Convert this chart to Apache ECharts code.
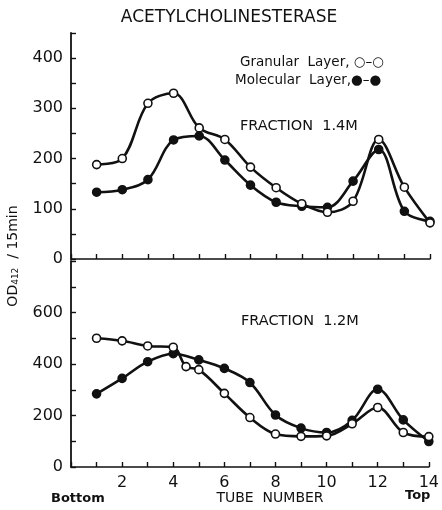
<!DOCTYPE html>
<html><head><meta charset="utf-8">
<script src="https://cdn.jsdelivr.net/npm/echarts@6/dist/echarts.min.js"></script>
<style>html,body{margin:0;padding:0;background:#fff}#c{width:442px;height:510px}</style>
</head><body><div id="c"></div>
<script>
var tubes = [1,2,3,4,5,6,7,8,9,10,11,12,13,14];
var topGranular  = [188,200,310,330,261,238,183,142,110,93,115,238,143,72];
var topMolecular = [133,138,158,237,245,197,147,113,105,103,155,218,95,75];
var botGranularX = [1,2,3,4,4.5,5,6,7,8,9,10,11,12,13,14];
var botGranular  = [500,490,470,465,390,378,286,192,128,119,121,168,231,134,118];
var botMolecular = [284,344,409,440,416,383,328,202,151,134,181,302,183,99];
var topYTicks = [0,100,200,300,400];
var botYTicks = [0,200,400,600];
var xTickLabels = [2,4,6,8,10,12,14];

function pairs(xs, ys){ return xs.map(function(x,i){return [x, ys[i]];}); }
var FONT = 'DejaVu Sans';
var ink = '#111';

function lineSeries(xi, yi, data, filled){
  return {
    type:'line', xAxisIndex:xi, yAxisIndex:yi, data:data, smooth:0.35,
    symbol:'circle', symbolSize:8,
    lineStyle:{color:ink, width:2.6},
    itemStyle:{color: filled ? ink : '#fff', borderColor:ink, borderWidth:1.6},
    z: filled ? 3 : 4
  };
}

var chart = echarts.init(document.getElementById('c'), null, {renderer:'canvas'});
chart.setOption({
  animation:false,
  backgroundColor:'#fff',
  grid:[
    {left:71, right:12, top:33, height:226},
    {left:71, right:12, top:261, bottom:43}
  ],
  xAxis:[
    {gridIndex:0, type:'value', min:0, max:14, interval:1,
     axisLine:{lineStyle:{color:ink, width:1.6}},
     axisTick:{inside:true, length:5, lineStyle:{color:ink, width:1.4}},
     axisLabel:{show:false}, splitLine:{show:false}},
    {gridIndex:1, type:'value', min:0, max:14, interval:1,
     axisLine:{lineStyle:{color:ink, width:1.6}},
     axisTick:{inside:true, length:5, lineStyle:{color:ink, width:1.4}},
     axisLabel:{color:ink, fontSize:16, fontFamily:FONT, margin:8,
       formatter:function(v){return xTickLabels.indexOf(v)>=0 ? String(v) : '';}},
     splitLine:{show:false}}
  ],
  yAxis:[
    {gridIndex:0, type:'value', min:0, max:450, interval:50,
     axisLine:{show:true, lineStyle:{color:ink, width:1.8}},
     axisTick:{show:true, inside:true, length:5, lineStyle:{color:ink, width:1.4}},
     axisLabel:{color:ink, fontSize:16, fontFamily:FONT, margin:8,
       formatter:function(v){return topYTicks.indexOf(v)>=0 ? String(v) : '';}},
     splitLine:{show:false}},
    {gridIndex:1, type:'value', min:0, max:800, interval:100,
     axisLine:{show:true, lineStyle:{color:ink, width:1.8}},
     axisTick:{show:true, inside:true, length:5, lineStyle:{color:ink, width:1.4}},
     axisLabel:{color:ink, fontSize:16, fontFamily:FONT, margin:8,
       formatter:function(v){return botYTicks.indexOf(v)>=0 ? String(v) : '';}},
     splitLine:{show:false}}
  ],
  series:[
    lineSeries(0,0,pairs(tubes, topGranular), false),
    lineSeries(0,0,pairs(tubes, topMolecular), true),
    lineSeries(1,1,pairs(botGranularX, botGranular), false),
    lineSeries(1,1,pairs(tubes, botMolecular), true)
  ],
  graphic:[
    {type:'text', x:229, y:18, style:{text:'ACETYLCHOLINESTERASE', fill:ink, font:'17px "DejaVu Sans"', align:'center', verticalAlign:'middle'}},
    {type:'text', x:240, y:55, style:{text:'Granular  Layer, \u25CB\u2013\u25CB', fill:ink, font:'13.5px "DejaVu Sans"'}},
    {type:'text', x:235, y:73, style:{text:'Molecular  Layer,\u25CF\u2013\u25CF', fill:ink, font:'13.5px "DejaVu Sans"'}},
    {type:'text', x:240, y:119, style:{text:'FRACTION  1.4M', fill:ink, font:'14.5px "DejaVu Sans"'}},
    {type:'text', x:241, y:314, style:{text:'FRACTION  1.2M', fill:ink, font:'14.5px "DejaVu Sans"'}},
    {type:'text', x:270, y:498, style:{text:'TUBE  NUMBER', fill:ink, font:'14px "DejaVu Sans"', align:'center', verticalAlign:'middle'}},
    {type:'text', x:51, y:492, style:{text:'Bottom', fill:ink, font:'bold 13px "DejaVu Sans"'}},
    {type:'text', x:405, y:489, style:{text:'Top', fill:ink, font:'bold 13px "DejaVu Sans"'}},
    {type:'text', x:13, y:256, rotation:Math.PI/2,
     style:{text:'{a|OD}{s|412}{a|  / 15min}', fill:ink, align:'center', verticalAlign:'middle',
       rich:{a:{fontSize:14, fontFamily:FONT, fill:ink}, s:{fontSize:9, fontFamily:FONT, fill:ink, padding:[6,0,0,0], verticalAlign:'bottom'}}}}
  ]
});
</script></body></html>
